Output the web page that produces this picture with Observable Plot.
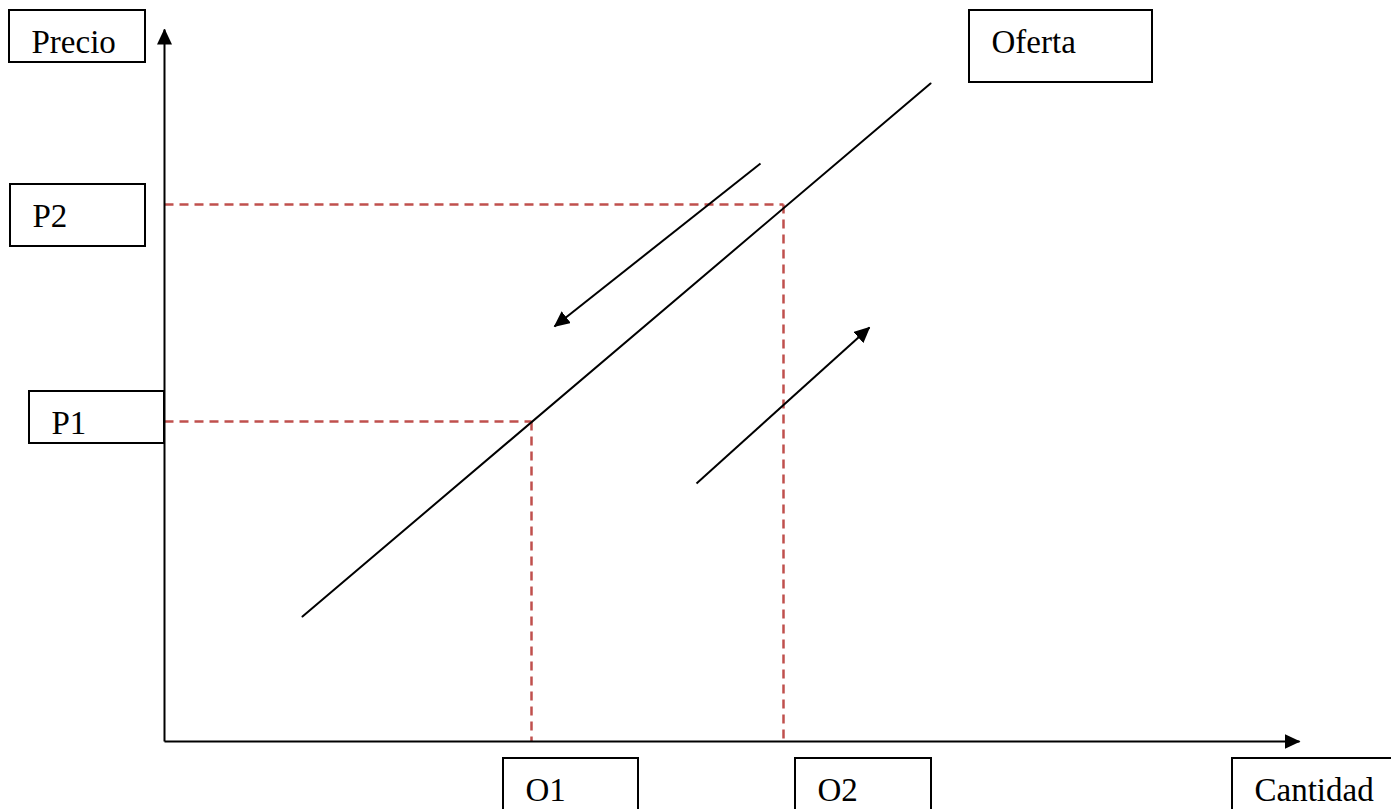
<!DOCTYPE html>
<html>
<head>
<meta charset="utf-8">
<script src="https://cdn.jsdelivr.net/npm/d3@7"></script>
<script src="https://cdn.jsdelivr.net/npm/@observablehq/plot@0.6"></script>
<style>
  html, body { margin: 0; padding: 0; background: #fff; }
  #chart svg { display: block; }
</style>
</head>
<body>
<div id="chart"></div>
<script>
// ---- Data (abstract units: Cantidad on x, Precio on y) ----
const quantityLevels = [{name: "O1", q: 36.7}, {name: "O2", q: 61.9}];
const priceLevels    = [{name: "P1", p: 32.0}, {name: "P2", p: 53.7}];
const supplyCurve    = [{q: 13.8, p: 12.5}, {q: 76.6, p: 65.8}];
const movementArrows = [
  {q1: 59.6, p1: 57.8, q2: 39.0, p2: 41.5},   // down along the curve
  {q1: 53.2, p1: 25.8, q2: 70.5, p2: 41.4}    // up along the curve
];
const axisEnds = {q: 113.5, p: 71.2};
// label boxes: text + box extent in chart units
const labelText = ["Precio", "Oferta", "P2", "P1", "O1", "O2", "Cantidad"];
const labelBoxes = [
  {x1: -15.5, x2: -1.9, y1: 73.1, y2: 67.9},
  {x1: 80.5,  x2: 98.8, y1: 73.1, y2: 65.9},
  {x1: -15.4, x2: -1.9, y1: 55.7, y2: 49.5},
  {x1: -13.5, x2: 0.0,  y1: 35.0, y2: 29.8},
  {x1: 33.9,  x2: 47.4, y1: -1.7, y2: -8.5},
  {x1: 63.1,  x2: 76.7, y1: -1.7, y2: -8.5},
  {x1: 106.8, x2: 124.0, y1: -1.7, y2: -8.5}
];

// ---- derived tables ----
const labels = labelText.map((t, i) => ({text: t, ...labelBoxes[i]}));
const qMap = Object.fromEntries(quantityLevels.map(d => [d.name, d.q]));
const pMap = Object.fromEntries(priceLevels.map(d => [d.name, d.p]));
const equilibria = [
  {q: qMap.O1, p: pMap.P1},
  {q: qMap.O2, p: pMap.P2}
];
const axes = [
  {q1: 0, p1: 0, q2: 0, p2: axisEnds.p},
  {q1: 0, p1: 0, q2: axisEnds.q, p2: 0}
];

const red = "#c0504d";
const font = "Liberation Serif";

const chart = Plot.plot({
  width: 1391,
  height: 809,
  margin: 0,
  x: {domain: [-16.4, 122.7], axis: null},
  y: {domain: [-6.8, 74.1], axis: null},
  style: {background: "#fff"},
  marks: [
    // dashed guides
    Plot.link(equilibria, {x1: 0, x2: "q", y1: "p", y2: "p", stroke: red, strokeWidth: 2.5, strokeDasharray: "9,6"}),
    Plot.link(equilibria, {x1: "q", x2: "q", y1: "p", y2: 0, stroke: red, strokeWidth: 2.5, strokeDasharray: "9,6"}),
    // supply curve
    Plot.line(supplyCurve, {x: "q", y: "p", stroke: "black", strokeWidth: 2}),
    // movement arrows
    Plot.link(movementArrows, {x1: "q1", y1: "p1", x2: "q2", y2: "p2", stroke: "black", strokeWidth: 2, markerEnd: "arrow"}),
    // axes
    Plot.link(axes, {x1: "q1", y1: "p1", x2: "q2", y2: "p2", stroke: "black", strokeWidth: 2, markerEnd: "arrow"}),
    // label boxes
    Plot.rect(labels, {x1: "x1", x2: "x2", y1: "y1", y2: "y2", fill: "white", stroke: "black", strokeWidth: 2}),
    Plot.text(labels, {x: "x1", y: "y1", text: "text", textAnchor: "start", lineAnchor: "bottom",
      dx: 22, dy: 42, fontSize: 33, fontFamily: font, fill: "black"})
  ]
});

// filled triangular arrowheads
chart.querySelectorAll("marker").forEach(m => {
  while (m.firstChild) m.removeChild(m.firstChild);
  m.setAttribute("viewBox", "-15 -7.5 16 15");
  m.setAttribute("markerWidth", 16);
  m.setAttribute("markerHeight", 15);
  m.setAttribute("markerUnits", "userSpaceOnUse");
  m.setAttribute("fill", "black");
  m.setAttribute("stroke", "none");
  const p = document.createElementNS("http://www.w3.org/2000/svg", "path");
  p.setAttribute("d", "M-15,-7.5L1,0L-15,7.5Z");
  m.appendChild(p);
});

document.getElementById("chart").appendChild(chart);
</script>
</body>
</html>
